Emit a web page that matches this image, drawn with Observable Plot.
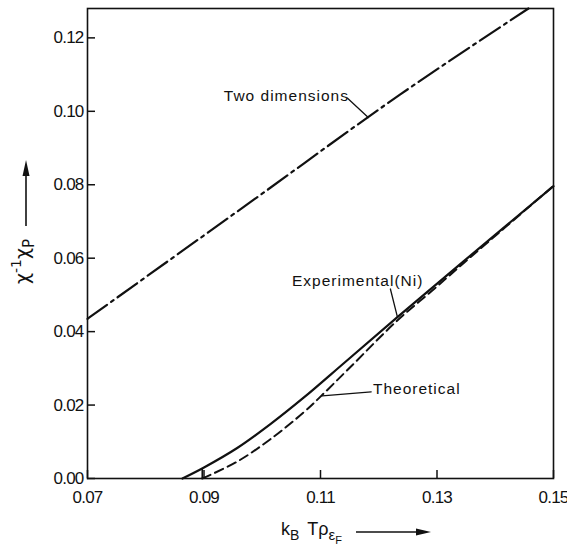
<!DOCTYPE html>
<html><head><meta charset="utf-8">
<script src="https://cdn.jsdelivr.net/npm/d3@7"></script>
<script src="https://cdn.jsdelivr.net/npm/@observablehq/plot@0.6"></script>
<style>body{margin:0;background:#fff} svg{display:block}</style>
</head><body><div id="chart"></div>
<script>
// ---- data ----
const xTicks = [0.07, 0.09, 0.11, 0.13, 0.15];
const yTicks = [0.00, 0.02, 0.04, 0.06, 0.08, 0.10, 0.12];

const twoDimX = [0.07, 0.0986, 0.1237, 0.1457];
const twoDimY = [0.0435, 0.0760, 0.1046, 0.128];

const expX = [0.0863, 0.0900, 0.0957, 0.1014, 0.1071, 0.1143, 0.1231, 0.1346, 0.1500];
const expY = [0.0000, 0.0030, 0.0083, 0.0148, 0.0220, 0.0318, 0.0438, 0.0592, 0.0796];

const theoX = [0.0897, 0.0957, 0.1014, 0.1071, 0.1100, 0.1151, 0.1231, 0.1289, 0.1346, 0.1500];
const theoY = [0.0000, 0.0046, 0.0107, 0.0180, 0.0223, 0.0303, 0.0429, 0.0508, 0.0587, 0.0797];

const labelText = ["Two dimensions", "Experimental(Ni)", "Theoretical"];

// ---- build ----
const twoDim = twoDimX.map((x, i) => ({x, y: twoDimY[i]}));
const exp = expX.map((x, i) => ({x, y: expY[i]}));
const theo = theoX.map((x, i) => ({x, y: theoY[i]}));

const labels = [
  {text: labelText[0], x: 0.0934, y: 0.1041},
  {text: labelText[1], x: 0.1051, y: 0.0538},
  {text: labelText[2], x: 0.1190, y: 0.0244}
];
const arrows = [
  {x1: 0.1146, y1: 0.1036, x2: 0.1182, y2: 0.0983, bend: 25},
  {x1: 0.1220, y1: 0.0516, x2: 0.1232, y2: 0.0440, bend: 0},
  {x1: 0.1187, y1: 0.0236, x2: 0.1103, y2: 0.0225, bend: -25}
];

const tickFont = "'Liberation Sans', Arial, sans-serif";
const labelFont = "'Liberation Sans', Arial, sans-serif";

const chart = Plot.plot({
  width: 567,
  height: 548,
  marginLeft: 87,
  marginRight: 14,
  marginTop: 8,
  marginBottom: 70,
  style: {fontFamily: tickFont, color: "#111", background: "#fff"},
  x: {domain: [0.07, 0.15]},
  y: {domain: [0, 0.128]},
  marks: [
    Plot.frame({stroke: "#111", strokeWidth: 1.6}),
    Plot.axisY(yTicks, {tickSize: -8, tickPadding: 12, tickFormat: d3.format(".2f"), fontSize: 17, label: null, strokeWidth: 1.5, stroke: "#111"}),
    Plot.axisX(xTicks, {tickSize: -8, tickPadding: 20, tickFormat: d3.format(".2f"), fontSize: 17, label: null, strokeWidth: 1.5, stroke: "#111"}),
    Plot.line(twoDim, {x: "x", y: "y", curve: "monotone-x", stroke: "#111", strokeWidth: 2.2, strokeDasharray: "24,5,3,5"}),
    Plot.line(exp, {x: "x", y: "y", curve: "catmull-rom", stroke: "#111", strokeWidth: 2.2}),
    Plot.line(theo, {x: "x", y: "y", curve: "catmull-rom", stroke: "#111", strokeWidth: 2, strokeDasharray: "9,5"}),
    Plot.ruleX([theoX[0]], {y1: 0, y2: 0.0027, stroke: "#111", strokeWidth: 1.6}),
    Plot.arrow(arrows, {x1: "x1", y1: "y1", x2: "x2", y2: "y2", bend: "bend", stroke: "#111", strokeWidth: 1.3, headLength: 7}),
    Plot.text(labels, {x: "x", y: "y", text: "text", textAnchor: "start", fontSize: 15.5, fontFamily: labelFont, fill: "#111"})
  ]
});

const svg = d3.select(chart);
// letter spacing for the annotation labels
svg.selectAll("g[aria-label='text'] text").attr("letter-spacing", "1px");
// tighten tick labels a little
svg.selectAll("g[aria-label='x-axis tick label'] text, g[aria-label='y-axis tick label'] text").attr("letter-spacing", "-0.8px");

// y axis title (rotated) with arrow
const yt = svg.append("text")
  .attr("transform", "translate(29,284) rotate(-90)")
  .attr("text-anchor", "start")
  .attr("font-family", "'DejaVu Sans', sans-serif")
  .attr("font-size", 19).attr("fill", "#111");
yt.append("tspan").text("χ");
yt.append("tspan").attr("dy", -8).attr("font-size", 14).text("-1");
yt.append("tspan").attr("dy", 8).text("χ");
yt.append("tspan").attr("dy", 5).attr("font-size", 15).text("P");
svg.append("line").attr("x1", 26).attr("y1", 226).attr("x2", 26).attr("y2", 170)
  .attr("stroke", "#111").attr("stroke-width", 1.6);
svg.append("path").attr("d", "M26,160 L22.5,176 L29.5,176 Z").attr("fill", "#111");

// x axis title with arrow
const xt = svg.append("text")
  .attr("x", 281).attr("y", 535)
  .attr("text-anchor", "start")
  .attr("font-family", labelFont)
  .attr("font-size", 18).attr("fill", "#111");
xt.append("tspan").text("k");
xt.append("tspan").attr("dy", 5).attr("font-size", 14).text("B");
xt.append("tspan").attr("dy", -5).attr("dx", 8).text("Tρ");
xt.append("tspan").attr("dy", 5).attr("font-size", 15).text("ε");
xt.append("tspan").attr("dy", 4).attr("font-size", 11).text("F");
svg.append("line").attr("x1", 356).attr("y1", 532).attr("x2", 420).attr("y2", 532)
  .attr("stroke", "#111").attr("stroke-width", 1.6);
svg.append("path").attr("d", "M431,532 L416,528.5 L416,535.5 Z").attr("fill", "#111");

document.getElementById("chart").appendChild(chart);
</script>
</body></html>
